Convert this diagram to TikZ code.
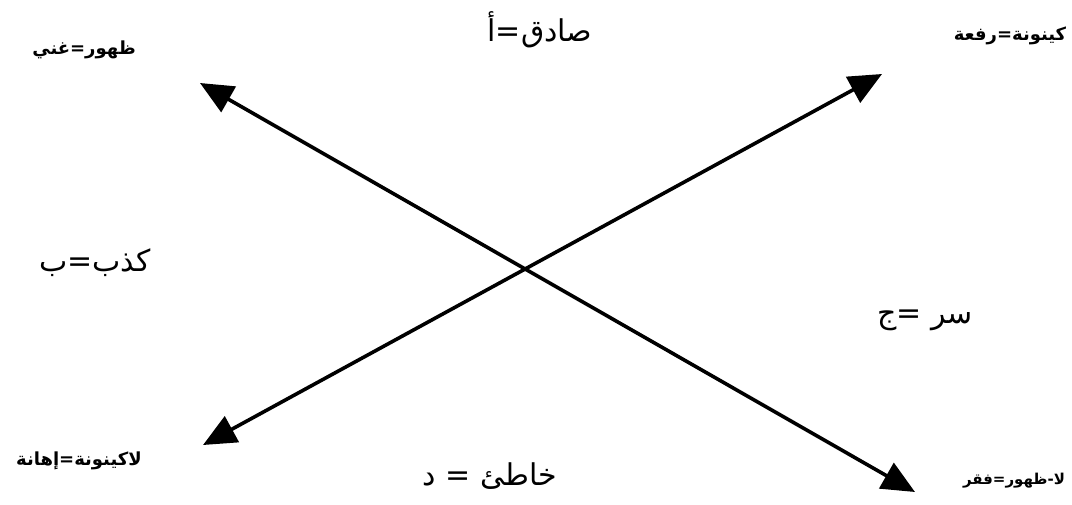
\documentclass[tikz,border=0pt]{standalone}
\usepackage{fontspec}
\usetikzlibrary{arrows.meta}
\newfontfamily\arabicfont[Script=Arabic]{DejaVu Sans}
\TeXXeTstate=1
\newcommand{\arabtext}[1]{\beginR #1\endR}

\begin{document}
\begin{tikzpicture}[x=1pt,y=-1pt,
    biglbl/.style={font=\arabicfont\fontsize{30}{34}\selectfont, inner sep=0pt},
    smalllbl/.style={font=\arabicfont\bfseries\fontsize{18}{21}\selectfont, inner sep=0pt},
    dblarrow/.style={line width=3.6pt, {Triangle[length=33pt,width=29pt]}-{Triangle[length=33pt,width=29pt]}}]
    \useasboundingbox (0,0) rectangle (1072,504);

    \coordinate (tl) at (200,83);
    \coordinate (br) at (915,492);
    \coordinate (bl) at (203,445);
    \coordinate (tr) at (882,74);
    \draw[dblarrow] (tl) -- (br);
    \draw[dblarrow] (bl) -- (tr);

    \node[biglbl] (sadiq) at (540,30) {\arabtext{صادق=أ}};
    \node[biglbl] (kadhib) at (95,263) {\arabtext{كذب=ب}};
    \node[biglbl] (sirr) at (925,320) {\arabtext{سر =ج}};
    \node[biglbl] (khati) at (490,476) {\arabtext{خاطئ = د}};

    \node[smalllbl] (zuhur) at (84,50) {\arabtext{ظهور=غني}};
    \node[smalllbl] (kaynuna) at (1010,36) {\arabtext{كينونة=رفعة}};
    \node[smalllbl] (lakaynuna) at (79,461) {\arabtext{لاكينونة=إهانة}};
    \node[smalllbl, font=\arabicfont\bfseries\fontsize{15}{18}\selectfont] (lazuhur) at (1014,481) {\arabtext{لا-ظهور=فقر}};
\end{tikzpicture}
\end{document}
